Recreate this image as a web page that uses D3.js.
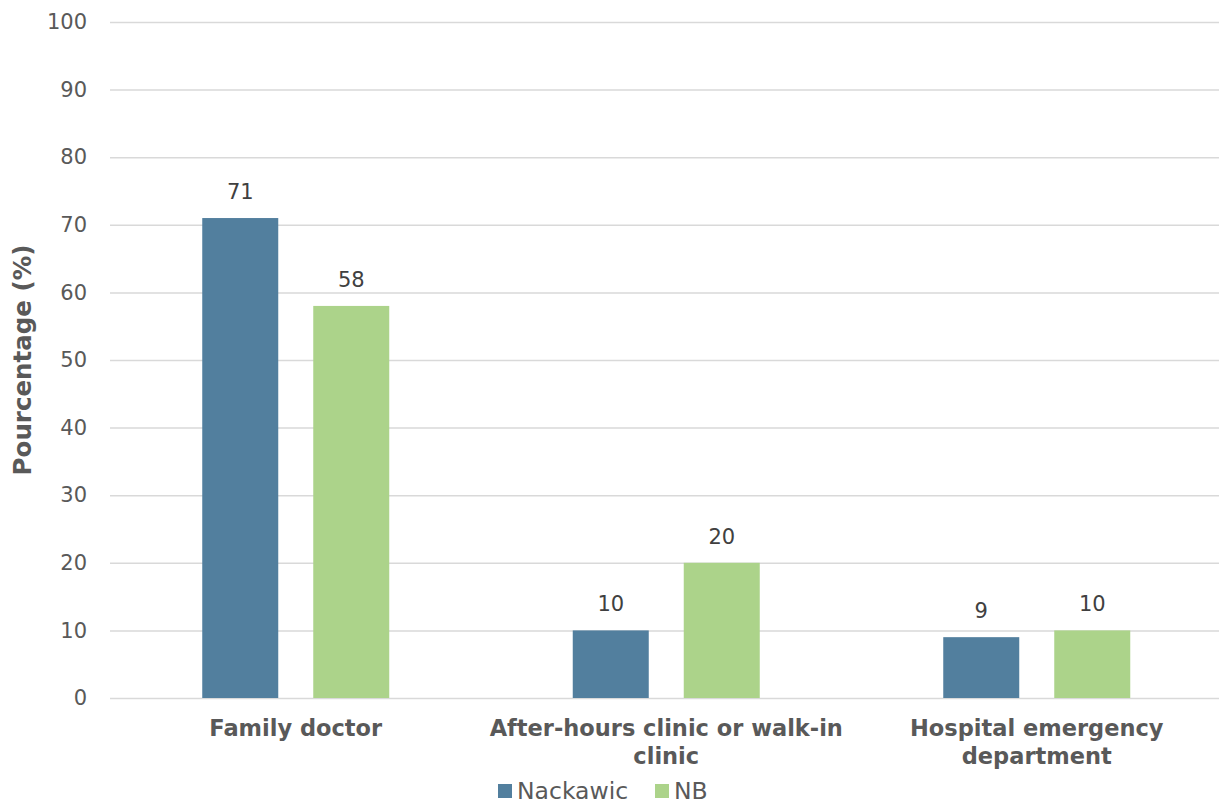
<!DOCTYPE html>
<html>
<head>
<meta charset="utf-8">
<script src="https://cdn.jsdelivr.net/npm/d3@7"></script>
<style>
  body { margin: 0; background: #fff; }
  svg { font-family: "DejaVu Sans", sans-serif; }
</style>
</head>
<body>
<div id="chart"></div>
<script>
// chart values
const categories = ["Family doctor", "After-hours clinic or walk-in clinic", "Hospital emergency department"];
const seriesNames = ["Nackawic", "NB"];
const nackawic = [71, 10, 9];
const nb = [58, 20, 10];
const yTicks = [0, 10, 20, 30, 40, 50, 60, 70, 80, 90, 100];

const colors = ["#527f9e", "#acd38a"];

const width = 1219;
const height = 804;
const marginTop = 22;
const marginBottom = 106;
const marginLeft = 110;

const svg = d3.select("#chart").append("svg")
    .attr("width", width)
    .attr("height", height);

const x = d3.scaleBand()
    .domain(categories)
    .range([110.5, 1222]);

const y = d3.scaleLinear()
    .domain([0, 100])
    .range([height - marginBottom, marginTop]);

// inner scale for the two bars in each group
const barW = 76, gap = 35;
const xs = d3.scaleOrdinal()
    .domain(seriesNames)
    .range([-(gap / 2 + barW), gap / 2]);

// gridlines
svg.append("g")
    .selectAll("line")
    .data(yTicks)
    .join("line")
        .attr("x1", marginLeft)
        .attr("x2", width)
        .attr("y1", d => y(d) + 0.5)
        .attr("y2", d => y(d) + 0.5)
        .attr("stroke", "#d9d9d9")
        .attr("stroke-width", 1.5);

// y axis labels
const yAxis = d3.axisLeft(y).tickValues(yTicks).tickSize(0).tickPadding(23);
svg.append("g")
    .attr("transform", `translate(${marginLeft},0)`)
    .call(yAxis)
    .call(g => g.select(".domain").remove())
    .call(g => g.selectAll("text")
        .attr("fill", "#595959")
        .attr("font-size", 21)
        .attr("font-family", "DejaVu Sans"));

// y title
svg.append("text")
    .attr("transform", `translate(31,${(y(0) + y(100)) / 2}) rotate(-90)`)
    .attr("text-anchor", "middle")
    .attr("fill", "#595959")
    .attr("font-size", 24.5)
    .attr("font-weight", "bold")
    .text("Pourcentage (%)");

// bars
const rows = categories.map((c, i) => ({cat: c, values: [nackawic[i], nb[i]]}));

const groups = svg.append("g")
    .selectAll("g")
    .data(rows)
    .join("g")
        .attr("transform", d => `translate(${x(d.cat) + x.bandwidth() / 2},0)`);

groups.selectAll("rect")
    .data(d => d.values.map((v, j) => ({name: seriesNames[j], value: v, j})))
    .join("rect")
        .attr("x", d => xs(d.name))
        .attr("y", d => y(d.value))
        .attr("width", barW)
        .attr("height", d => y(0) - y(d.value))
        .attr("fill", d => colors[d.j]);

groups.selectAll("text")
    .data(d => d.values.map((v, j) => ({name: seriesNames[j], value: v})))
    .join("text")
        .attr("x", d => xs(d.name) + barW / 2)
        .attr("y", d => y(d.value) - 19)
        .attr("text-anchor", "middle")
        .attr("fill", "#404040")
        .attr("font-size", 21)
        .text(d => d.value);

// category labels
const xAxis = d3.axisBottom(x).tickSize(0).tickPadding(22);
svg.append("g")
    .attr("transform", `translate(0,${y(0)})`)
    .call(xAxis)
    .call(g => g.select(".domain").remove())
    .call(g => g.selectAll("text")
        .attr("fill", "#595959")
        .attr("font-size", 22.5)
        .attr("font-weight", "bold")
        .attr("font-family", "DejaVu Sans")
        .call(wrap, x.bandwidth() - 10));

function wrap(text, w) {
    text.each(function() {
        const t = d3.select(this);
        const words = t.text().split(/\s+/);
        const yy = t.attr("y");
        const dy = parseFloat(t.attr("dy"));
        t.text(null);
        let line = [];
        let lineNo = 0;
        let tspan = t.append("tspan").attr("x", 0).attr("y", yy).attr("dy", dy + "em");
        for (const word of words) {
            line.push(word);
            tspan.text(line.join(" "));
            if (tspan.node().getComputedTextLength() > w && line.length > 1) {
                line.pop();
                tspan.text(line.join(" "));
                line = [word];
                tspan = t.append("tspan").attr("x", 0).attr("y", yy)
                    .attr("dy", (++lineNo * 1.25 + dy) + "em").text(word);
            }
        }
    });
}

// legend
const legend = svg.append("g")
    .attr("transform", `translate(498,${height - 13})`);

const legendX = [0, 157];
const items = legend.selectAll("g")
    .data(seriesNames)
    .join("g")
        .attr("transform", (d, i) => `translate(${legendX[i]},0)`);

items.append("rect")
    .attr("x", 0)
    .attr("y", -7)
    .attr("width", 14)
    .attr("height", 14)
    .attr("fill", (d, i) => colors[i]);

items.append("text")
    .attr("x", 19)
    .attr("y", 0)
    .attr("dy", "0.35em")
    .attr("fill", "#595959")
    .attr("font-size", 23.5)
    .text(d => d);
</script>
</body>
</html>
